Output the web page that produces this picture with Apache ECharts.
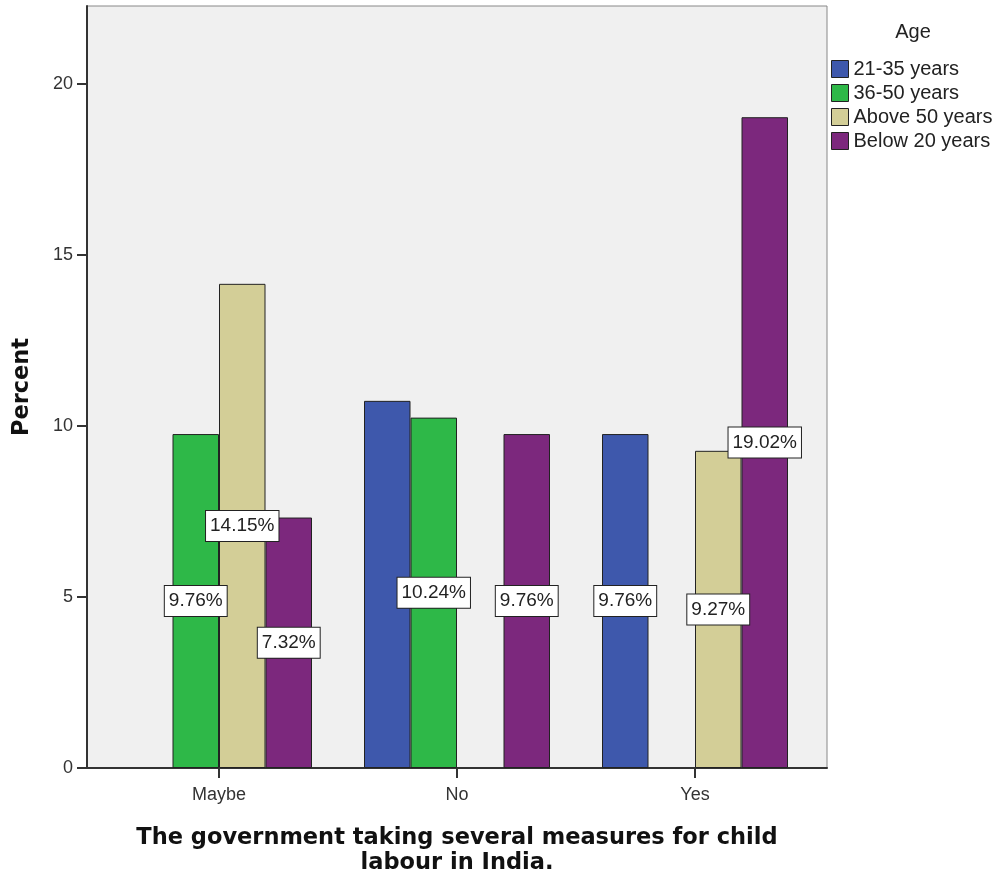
<!DOCTYPE html>
<html>
<head>
<meta charset="utf-8">
<script src="https://cdn.jsdelivr.net/npm/echarts@6/dist/echarts.min.js"></script>
<style>
html,body{margin:0;padding:0;background:#fff;}
#chart{width:998px;height:877px;}
</style>
</head>
<body>
<div id="chart"></div>
<script>
// ---- data ----
const categories = ['Maybe', 'No', 'Yes'];
const seriesNames = ['21-35 years', '36-50 years', 'Above 50 years', 'Below 20 years'];
const blue2135   = [null, 10.73, 9.76];
const green3650  = [9.76, 10.24, null];
const tanAbove50 = [14.15, null, 9.27];
const purpleBelow20 = [7.32, 9.76, 19.02];
const yTicks = [0, 5, 10, 15, 20];
// labels not printed in the reference: [categoryIndex, seriesIndex]
const hiddenLabels = [[1, 0]];

const seriesValues = [blue2135, green3650, tanAbove50, purpleBelow20];
const colors = ['#3E58AC', '#2EB848', '#D3CE97', '#7C287D'];

const chart = echarts.init(document.getElementById('chart'), null, {renderer: 'canvas'});

const yMax = 22.27;
const labelFont = 'Liberation Sans, Arial, sans-serif';
const boldFont = 'DejaVu Sans, sans-serif';

const series = seriesValues.map((vals, si) => ({
  name: seriesNames[si],
  type: 'bar',
  xAxisIndex: 1,
  yAxisIndex: 1,
  barWidth: 46.5,
  barGap: '0%',
  itemStyle: {color: colors[si], borderColor: '#222', borderWidth: 1},
  data: vals.map((v, ci) => {
    const hide = hiddenLabels.some(h => h[0] === ci && h[1] === si);
    return {value: v, label: {show: v != null && !hide}};
  }),
  label: {
    position: 'inside',
    formatter: p => p.value.toFixed(2) + '%',
    fontFamily: labelFont,
    fontSize: 19,
    color: '#222',
    backgroundColor: '#fff',
    borderColor: '#222',
    borderWidth: 1,
    padding: [6, 4, 5, 4]
  },
  labelLayout: {hideOverlap: false}
}));

const option = {
  animation: false,
  backgroundColor: '#fff',
  title: {
    text: 'Age',
    left: 913,
    top: 22,
    padding: 0,
    textAlign: 'center',
    textStyle: {fontFamily: labelFont, fontSize: 20, fontWeight: 'normal', color: '#222'}
  },
  legend: {
    orient: 'vertical',
    left: 831,
    top: 59,
    padding: 0,
    itemWidth: 17,
    itemHeight: 17,
    itemGap: 4,
    icon: 'rect',
    data: seriesNames,
    itemStyle: {borderColor: '#222', borderWidth: 1},
    textStyle: {fontFamily: labelFont, fontSize: 20, color: '#222', lineHeight: 17}
  },
  grid: [
    {left: 87, top: 6, right: 171, bottom: 109, outerBoundsMode: 'none', containLabel: false,
     show: true, backgroundColor: '#F0F0F0', borderColor: '#888', borderWidth: 1},
    {left: 100, top: 6, width: 714, bottom: 109, outerBoundsMode: 'none', containLabel: false}
  ],
  xAxis: [
    {
      gridIndex: 0, type: 'category', data: categories,
      axisLine: {show: true, lineStyle: {color: '#333', width: 2}},
      axisTick: {show: false}, axisLabel: {show: false}
    },
    {
      gridIndex: 1, type: 'category', data: categories,
      axisLine: {show: false},
      axisTick: {show: true, alignWithLabel: true, length: 10, lineStyle: {color: '#333', width: 2}},
      axisLabel: {fontFamily: labelFont, fontSize: 18, color: '#333', margin: 18},
      name: 'The government taking several measures for child\nlabour in India.',
      nameLocation: 'middle',
      nameGap: 58,
      nameTextStyle: {fontFamily: boldFont, fontWeight: 'bold', fontSize: 22.5, color: '#111', lineHeight: 25}
    }
  ],
  yAxis: [
    {
      gridIndex: 0, type: 'value', min: 0, max: yMax, interval: 5,
      axisLine: {show: true, lineStyle: {color: '#333', width: 2}},
      axisTick: {show: true, length: 10, lineStyle: {color: '#333', width: 2}, customValues: yTicks},
      axisLabel: {fontFamily: labelFont, fontSize: 18, color: '#333', margin: 14,
        customValues: yTicks, formatter: v => String(v)},
      splitLine: {show: false},
      name: 'Percent',
      nameLocation: 'middle',
      nameRotate: 90,
      nameGap: 53,
      nameTextStyle: {fontFamily: boldFont, fontWeight: 'bold', fontSize: 22.5, color: '#111'}
    },
    {
      gridIndex: 1, type: 'value', min: 0, max: yMax, interval: 5, show: false
    }
  ],
  series: series
};

chart.setOption(option);
</script>
</body>
</html>
